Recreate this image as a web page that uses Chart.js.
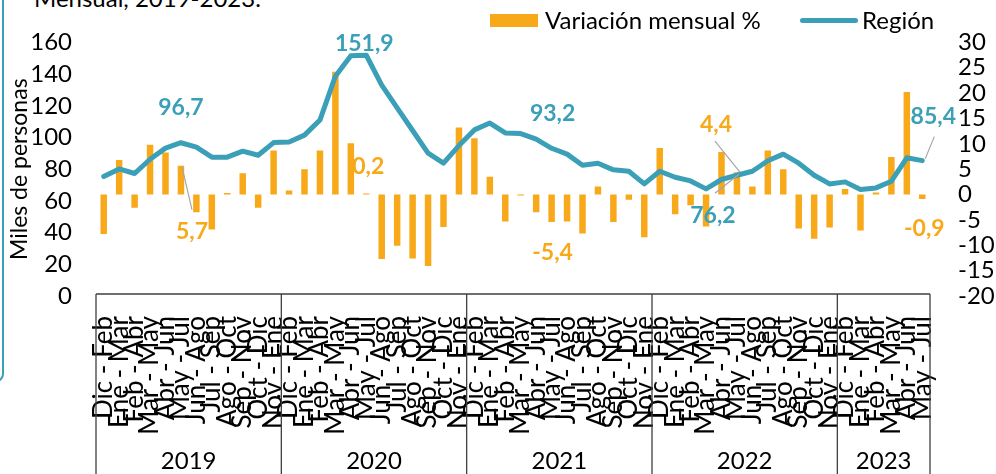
<!DOCTYPE html>
<html lang="es">
<head>
<meta charset="UTF-8">
<title>Región – variación mensual</title>
<style>
  body { margin: 0; background: #ffffff; font-family: Lato, sans-serif; }
  .wrap { position: relative; width: 996px; height: 474px; overflow: hidden; }
  .frame {
    position: absolute; left: -12px; top: -20px; width: 12px; height: 398px;
    border: 2px solid #3a9fb7; border-radius: 12px;
  }
  .title {
    position: absolute; left: 34px; top: -17px; font-size: 24px; color: #000;
    white-space: nowrap;
  }
  .legend { position: absolute; top: 5px; left: 490px; font-size: 24px; color: #000; }
  .legend span { position: absolute; white-space: nowrap; }
  .sw-bar { left: 0; top: 9px; width: 48px; height: 13px; background: #f7a91a; }
  .sw-line { left: 310px; top: 13px; width: 58px; height: 5px; background: #3a9fb7; border-radius: 3px; }
  canvas { position: absolute; left: 0; top: 0; }
</style>
</head>
<body>
<div class="wrap">
  <div class="frame"></div>
  <div class="title">Mensual, 2019-2023.</div>
  <canvas id="chart" width="996" height="474"></canvas>
  <div class="legend">
    <span class="sw-bar"></span>
    <span style="left:55px; top:0">Variación mensual %</span>
    <span class="sw-line"></span>
    <span style="left:372px; top:0">Región</span>
  </div>
</div>

<script src="https://cdn.jsdelivr.net/npm/chart.js"></script>
<script>
  // rolling quarters, grouped by year
  const periods = ['Dic - Feb', 'Ene - Mar', 'Feb - Abr', 'Mar - May', 'Abr - Jun', 'May - Jul',
    'Jun - Ago', 'Jul - Sep', 'Ago - Oct', 'Sep - Nov', 'Oct - Dic', 'Nov - Ene'];
  const years = ['2019', '2020', '2021', '2022', '2023'];
  const yearCounts = [12, 12, 12, 12, 6];
  const categories = years.flatMap((y, k) => periods.slice(0, yearCounts[k]));

  // Región (miles de personas)
  const region = [
    75.4, 80.2, 77.3, 86.3, 93.3, 96.7, 93.9, 87.6, 87.6, 91.4, 88.8, 96.8,
    97.1, 101.5, 111.0, 138.7, 151.6, 151.9, 133.0, 118.7, 104.4, 90.1, 83.8, 94.9,
    104.8, 109.1, 102.9, 102.5, 99.0, 93.2, 89.5, 82.5, 83.8, 79.6, 78.7, 70.7,
    78.7, 74.9, 72.6, 67.6, 73.5, 76.2, 78.7, 85.3, 89.5, 83.8, 76.2, 70.7,
    72.0, 67.2, 68.2, 72.4, 87.2, 85.4
  ];

  // Variación mensual %
  const variation = [
    -7.8, 6.8, -2.6, 9.8, 8.3, 5.7, -3.5, -6.9, 0.3, 4.2, -2.6, 8.7,
    0.8, 5.0, 8.7, 24.2, 10.1, 0.2, -12.7, -10.1, -12.6, -14.1, -6.4, 13.2,
    11.1, 3.5, -5.3, -0.2, -3.5, -5.4, -5.3, -7.7, 1.6, -5.4, -1.0, -8.4,
    9.2, -3.9, -2.1, -6.3, 8.4, 4.4, 1.6, 8.7, 5.0, -6.7, -8.7, -6.5,
    1.1, -7.1, 0.4, 7.4, 20.2, -0.9
  ];

  const leftTicks = [0, 160, 20];
  const rightTicks = [-20, 30, 5];

  // points that carry a value label (May - Jul of each year)
  const labelled = [5, 17, 29, 41, 53];

  const TEAL = '#3a9fb7';
  const ORANGE = '#f7a91a';
  const FONT = 'Lato, sans-serif';

  // label placement relative to the mark, plus optional leader line
  const lineLabelPos = {
    5: { dx: 0, dy: -35 },
    17: { dx: -2, dy: -12 },
    29: { dx: 1, dy: -35 },
    41: { dx: -24, dy: 40, lead: [2, -22, 2, -1] },
    53: { dx: 11, dy: -44, lead: [1, 20, 3, -2] }
  };
  const barLabelPos = {
    5: { dx: 11, dy: 66, lead: [0, -22, 1, 1] },
    17: { dx: 2, dy: -27 },
    29: { dx: 1, dy: 31 },
    41: { dx: -21, dy: -48, lead: [-1, 17, 3, 0] },
    53: { dx: 2, dy: 29 }
  };

  const fmt = v => v.toFixed(1).replace('.', ',');

  const callouts = {
    id: 'callouts',
    afterDatasetsDraw(chart) {
      const ctx = chart.ctx;
      const lineMeta = chart.getDatasetMeta(0);
      const barMeta = chart.getDatasetMeta(1);
      ctx.save();
      ctx.font = 'bold 23px ' + FONT;
      ctx.textAlign = 'center';
      ctx.textBaseline = 'middle';
      labelled.forEach(i => {
        [[lineMeta, lineLabelPos, region, TEAL], [barMeta, barLabelPos, variation, ORANGE]].forEach(([meta, pos, vals, col]) => {
          const el = meta.data[i];
          const p = pos[i];
          const lx = el.x + p.dx, ly = el.y + p.dy;
          if (p.lead) {
            ctx.strokeStyle = '#a6a6a6';
            ctx.lineWidth = 1.2;
            ctx.beginPath();
            ctx.moveTo(lx + p.lead[0], ly + p.lead[1]);
            ctx.lineTo(el.x + p.lead[2], el.y + p.lead[3]);
            ctx.stroke();
          }
          ctx.fillStyle = col;
          ctx.fillText(fmt(vals[i]), lx, ly);
        });
      });
      ctx.restore();
    }
  };

  const yearGroups = {
    id: 'yearGroups',
    afterDraw(chart) {
      const ctx = chart.ctx;
      const x = chart.scales.x;
      const area = chart.chartArea;
      const top = area.bottom - 2;
      const bottom = chart.height;
      const edges = [area.left];
      let n = 0;
      yearCounts.forEach((c, k) => {
        n += c;
        if (n < categories.length) {
          edges.push((x.getPixelForTick(n - 1) + x.getPixelForTick(n)) / 2);
        } else {
          edges.push(area.right);
        }
      });
      ctx.save();
      ctx.strokeStyle = '#404040';
      ctx.lineWidth = 1.3;
      ctx.beginPath();
      ctx.moveTo(area.left, top);
      ctx.lineTo(area.right, top);
      edges.forEach(e => { ctx.moveTo(e, top); ctx.lineTo(e, bottom); });
      ctx.stroke();
      ctx.fillStyle = '#000';
      ctx.font = '24px ' + FONT;
      ctx.textAlign = 'center';
      ctx.textBaseline = 'middle';
      years.forEach((y, k) => ctx.fillText(y, (edges[k] + edges[k + 1]) / 2, 461));
      ctx.restore();
    }
  };

  new Chart(document.getElementById('chart'), {
    type: 'bar',
    data: {
      labels: categories,
      datasets: [{
        type: 'line',
        label: 'Región',
        data: region,
        borderColor: TEAL,
        borderWidth: 5,
        pointRadius: 0,
        tension: 0,
        borderJoinStyle: 'round',
        borderCapStyle: 'round',
        yAxisID: 'y'
      }, {
        label: 'Variación mensual %',
        data: variation,
        backgroundColor: ORANGE,
        barPercentage: 0.42,
        categoryPercentage: 1,
        yAxisID: 'y1'
      }]
    },
    options: {
      responsive: false,
      animation: false,
      layout: { padding: { top: 16, left: 0, right: 0, bottom: 0 } },
      plugins: { legend: { display: false }, tooltip: { enabled: false } },
      scales: {
        x: {
          offset: true,
          grid: { display: false, drawTicks: false },
          border: { display: false },
          ticks: {
            autoSkip: false, maxRotation: 90, minRotation: 90, padding: 20,
            color: '#000', font: { family: FONT, size: 26 }
          },
          afterFit(s) { s.height = 178; }
        },
        y: {
          position: 'left',
          min: leftTicks[0], max: leftTicks[1],
          grid: { display: false, drawTicks: false },
          border: { display: false },
          ticks: { stepSize: leftTicks[2], autoSkip: false, padding: 24, color: '#000', font: { family: FONT, size: 24 } },
          title: { display: true, text: 'Miles de personas', color: '#000', font: { family: FONT, size: 23 }, padding: { top: 6 } },
          afterFit(s) { s.width = 96; }
        },
        y1: {
          position: 'right',
          min: rightTicks[0], max: rightTicks[1],
          grid: { display: false, drawTicks: false },
          border: { display: false },
          ticks: { stepSize: rightTicks[2], autoSkip: false, padding: 28, color: '#000', font: { family: FONT, size: 24 } },
          afterFit(s) { s.width = 66; }
        }
      }
    },
    plugins: [callouts, yearGroups]
  });
</script>
</body>
</html>
